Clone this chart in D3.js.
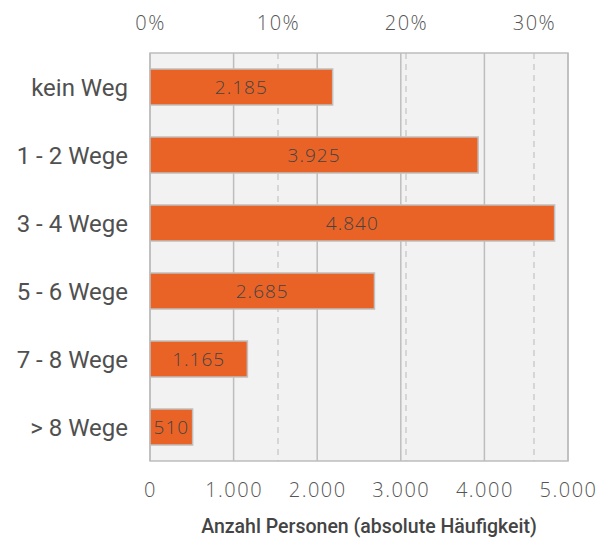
<!DOCTYPE html>
<html>
<head>
<meta charset="utf-8">
<script src="https://cdn.jsdelivr.net/npm/d3@7"></script>
<style>
  body { margin: 0; background: #fff; }
  svg { display: block; }
</style>
</head>
<body>
<svg id="chart"></svg>
<script>
var categories = ["kein Weg", "1 - 2 Wege", "3 - 4 Wege", "5 - 6 Wege", "7 - 8 Wege", "> 8 Wege"];
var counts = [2185, 3925, 4840, 2685, 1165, 510];
var countTicks = [0, 1000, 2000, 3000, 4000, 5000];
var percentTicks = [0, 0.1, 0.2, 0.3];

var width = 602;
var height = 542;
var plotLeft = 150, plotRight = 568, plotTop = 53, plotBottom = 461;

var total = d3.sum(counts);
var fmt = d3.formatLocale({decimal: ",", thousands: ".", grouping: [3], currency: ["", "€"]}).format(",d");

var svg = d3.select("#chart")
	.attr("width", width)
	.attr("height", height);

var x = d3.scaleLinear()
	.domain([0, 5000])
	.range([plotLeft, plotRight]);

var y = d3.scaleBand()
	.domain(categories)
	.range([plotTop, plotBottom])
	.paddingInner(0.47)
	.paddingOuter(0.235);

// plot background
svg.append("rect")
	.attr("x", plotLeft)
	.attr("y", plotTop)
	.attr("width", plotRight - plotLeft)
	.attr("height", plotBottom - plotTop)
	.attr("fill", "#f2f2f2");

// dashed percent grid
svg.selectAll(".pgrid")
	.data(percentTicks.filter(function(d) { return d > 0; }))
	.enter()
	.append("line")
	.attr("x1", function(d) { return x(d * total); })
	.attr("x2", function(d) { return x(d * total); })
	.attr("y1", plotTop)
	.attr("y2", plotBottom)
	.attr("stroke", "#d6d6d6")
	.attr("stroke-width", 2)
	.attr("stroke-dasharray", "6,5");

// solid count grid
svg.selectAll(".cgrid")
	.data(countTicks)
	.enter()
	.append("line")
	.attr("x1", function(d) { return x(d); })
	.attr("x2", function(d) { return x(d); })
	.attr("y1", plotTop)
	.attr("y2", plotBottom)
	.attr("stroke", "#bdbdbd")
	.attr("stroke-width", 1.5);

svg.append("rect")
	.attr("x", plotLeft)
	.attr("y", plotTop)
	.attr("width", plotRight - plotLeft)
	.attr("height", plotBottom - plotTop)
	.attr("fill", "none")
	.attr("stroke", "#bdbdbd")
	.attr("stroke-width", 1.5);

// bars
svg.selectAll(".bar")
	.data(counts)
	.enter()
	.append("rect")
	.attr("x", x(0))
	.attr("y", function(d, i) { return y(categories[i]); })
	.attr("width", function(d) { return x(d) - x(0); })
	.attr("height", y.bandwidth())
	.attr("fill", "#ea6326")
	.attr("stroke", "#c0c0c0")
	.attr("stroke-width", 1.5);

// bar labels
svg.selectAll(".blabel")
	.data(counts)
	.enter()
	.append("text")
	.attr("x", function(d) { return (x(0) + x(d)) / 2; })
	.attr("y", function(d, i) { return y(categories[i]) + y.bandwidth() / 2; })
	.attr("dy", "0.36em")
	.attr("text-anchor", "middle")
	.style("font-family", "'Open Sans', sans-serif")
	.style("font-weight", "300")
	.style("letter-spacing", "1px")
	.style("font-size", "19px")
	.style("fill", "#444")
	.text(function(d) { return fmt(d); });

// category labels
svg.selectAll(".clabel")
	.data(categories)
	.enter()
	.append("text")
	.attr("x", 128)
	.attr("y", function(d) { return y(d) + y.bandwidth() / 2; })
	.attr("dy", "0.36em")
	.attr("text-anchor", "end")
	.style("font-family", "Roboto, sans-serif")
	.style("font-size", "24px")
	.style("fill", "#505050")
	.text(function(d) { return d; });

// bottom axis
var xAxis = d3.axisBottom(x)
	.tickValues(countTicks)
	.tickSize(0)
	.tickPadding(0)
	.tickFormat(fmt);

var gx = svg.append("g")
	.attr("transform", "translate(0," + 497 + ")")
	.call(xAxis);
gx.select(".domain").remove();
gx.selectAll("text")
	.attr("dy", 0)
	.style("font-family", "'Open Sans', sans-serif")
	.style("font-weight", "300")
	.style("letter-spacing", "1.5px")
	.style("font-size", "20px")
	.style("fill", "#555");

// top percent axis
var xTop = d3.axisTop(x)
	.tickValues(percentTicks.map(function(d) { return d * total; }))
	.tickSize(0)
	.tickPadding(0)
	.tickFormat(function(d) { return Math.round(d / total * 100) + "%"; });

var gt = svg.append("g")
	.attr("transform", "translate(0," + 30 + ")")
	.call(xTop);
gt.select(".domain").remove();
gt.selectAll("text")
	.style("font-family", "'Open Sans', sans-serif")
	.style("font-weight", "300")
	.style("letter-spacing", "1.5px")
	.style("font-size", "20px")
	.style("fill", "#555");

// axis title
svg.append("text")
	.attr("x", (plotLeft + plotRight) / 2 + 10)
	.attr("y", 533)
	.attr("text-anchor", "middle")
	.style("font-family", "Roboto, sans-serif")
	.style("font-weight", "500")
	.style("font-size", "19.5px")
	.style("fill", "#444")
	.text("Anzahl Personen (absolute Häufigkeit)");
</script>
</body>
</html>
